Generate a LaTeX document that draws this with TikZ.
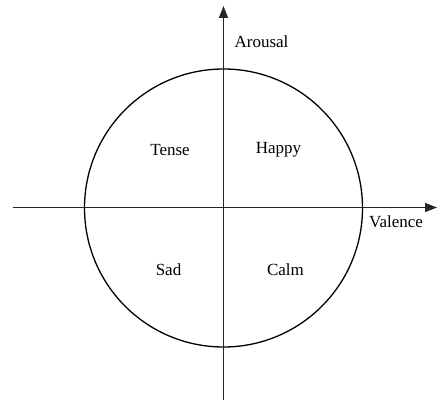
\documentclass[tikz,border=0pt]{standalone}
\usepackage{fontspec}
\setmainfont{Liberation Serif}
\usetikzlibrary{arrows.meta}
\begin{document}
\begin{tikzpicture}[x=1pt,y=-1pt,
  axis/.style={line width=1.3pt,black!85,-{Triangle[length=12pt,width=9pt]}},
  lbl/.style={font=\fontsize{17}{20}\selectfont,inner sep=0pt}]
\useasboundingbox (0,0) rectangle (444,404);
\coordinate (O) at (223.5,208);
\coordinate (xl) at (12.5,207.5);
\coordinate (xr) at (437,207.5);
\coordinate (yb) at (223.5,400);
\coordinate (yt) at (223.5,6);
\node[draw,line width=1.3pt,circle,minimum size=278pt,inner sep=0pt] (c) at (O) {};
\draw[axis] (xl) -- (xr);
\draw[axis] (yb) -- (yt);
\node[lbl] (ar) at (261.5,42) {Arousal};
\node[lbl] (va) at (396,222) {Valence};
\node[lbl] (te) at (170,150) {Tense};
\node[lbl] (ha) at (278.5,150) {Happy};
\node[lbl] (sa) at (168.5,270) {Sad};
\node[lbl] (ca) at (285.5,270) {Calm};
\end{tikzpicture}
\end{document}
